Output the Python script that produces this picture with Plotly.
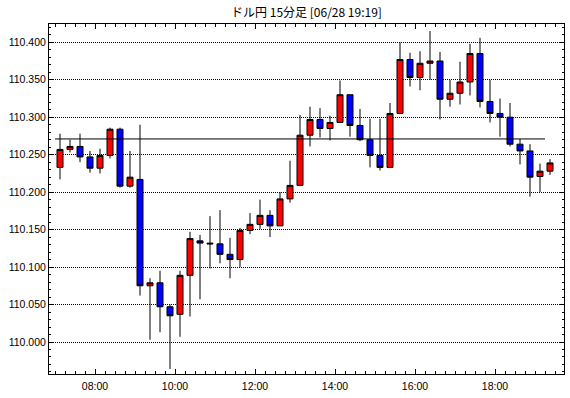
import pandas as pd
import plotly.graph_objects as go

title = "ドル円 15分足 [06/28 19:19]"
times = pd.date_range("2018-06-28 07:00", periods=50, freq="15min")

opens = [110.233, 110.257, 110.261, 110.247, 110.232, 110.249, 110.284, 110.208, 110.217, 110.075,
         110.079, 110.047, 110.037, 110.089, 110.135, 110.132, 110.131, 110.117, 110.110, 110.149,
         110.157, 110.169, 110.155, 110.191, 110.209, 110.276, 110.297, 110.285, 110.293, 110.330,
         110.289, 110.270, 110.249, 110.233, 110.305, 110.377, 110.353, 110.372, 110.375, 110.324,
         110.332, 110.347, 110.385, 110.321, 110.305, 110.300, 110.264, 110.255, 110.221, 110.228]
highs = [110.278, 110.270, 110.278, 110.255, 110.258, 110.286, 110.286, 110.255, 110.290, 110.085,
         110.095, 110.050, 110.095, 110.147, 110.143, 110.168, 110.176, 110.139, 110.152, 110.172,
         110.190, 110.176, 110.200, 110.242, 110.303, 110.314, 110.312, 110.302, 110.349, 110.330,
         110.311, 110.298, 110.298, 110.319, 110.400, 110.386, 110.388, 110.415, 110.387, 110.350,
         110.374, 110.398, 110.406, 110.350, 110.325, 110.319, 110.271, 110.264, 110.238, 110.244]
lows = [110.217, 110.253, 110.240, 110.226, 110.225, 110.245, 110.206, 110.206, 110.062, 110.003,
        110.013, 109.964, 110.007, 110.034, 110.057, 110.098, 110.105, 110.085, 110.100, 110.144,
        110.151, 110.140, 110.155, 110.186, 110.209, 110.261, 110.273, 110.269, 110.293, 110.274,
        110.268, 110.233, 110.229, 110.232, 110.305, 110.341, 110.336, 110.350, 110.297, 110.314,
        110.317, 110.329, 110.313, 110.293, 110.274, 110.261, 110.237, 110.194, 110.200, 110.223]
closes = [110.257, 110.261, 110.247, 110.232, 110.249, 110.284, 110.208, 110.220, 110.075, 110.079,
          110.047, 110.035, 110.089, 110.138, 110.132, 110.131, 110.117, 110.110, 110.149, 110.157,
          110.169, 110.155, 110.191, 110.209, 110.276, 110.297, 110.285, 110.293, 110.330, 110.289,
          110.270, 110.249, 110.233, 110.305, 110.377, 110.353, 110.372, 110.375, 110.324, 110.332,
          110.347, 110.385, 110.321, 110.305, 110.300, 110.264, 110.255, 110.220, 110.228, 110.239]
ref_level = 110.271

x_range = ["2018-06-28 06:51:00", "2018-06-28 19:43:30"]
y_range = [109.9573, 110.4244]

fig = go.Figure()
fig.add_trace(go.Scatter(
    x=[times[0], times[-1]], y=[ref_level, ref_level], mode="lines",
    line=dict(color="black", width=1), hoverinfo="skip", showlegend=False))
fig.add_trace(go.Candlestick(
    x=times, open=opens, high=highs, low=lows, close=closes,
    xperiod=15 * 60 * 1000, xperiodalignment="middle",
    increasing=dict(line=dict(color="black", width=1), fillcolor="#FF0000"),
    decreasing=dict(line=dict(color="black", width=1), fillcolor="#0000FF"),
    whiskerwidth=0, showlegend=False))

font = dict(family="Liberation Sans, Arial, sans-serif", size=10.5, color="black")
fig.update_layout(
    template="none",
    width=570, height=398,
    margin=dict(l=49, r=6, t=24, b=24, autoexpand=False),
    paper_bgcolor="white", plot_bgcolor="white",
    boxgap=0.4, boxgroupgap=0,
    title=dict(text=title, x=0.5, xref="paper", y=1 - 13 / 398, yref="container",
               xanchor="center", yanchor="middle",
               font=dict(family="Noto Sans CJK JP, sans-serif", size=12, color="black")),
    font=font,
)
fig.update_xaxes(
    type="date", range=x_range, rangeslider=dict(visible=False), automargin=False,
    tick0="2018-06-28 00:00", dtick=2 * 3600 * 1000, tickformat="%H:%M",
    ticks="inside", ticklen=5, tickcolor="black", tickwidth=1, ticklabelstandoff=2,
    minor=dict(dtick=15 * 60 * 1000, ticks="inside", ticklen=3, tickcolor="black", tickwidth=1,
               showgrid=False),
    showgrid=False, zeroline=False,
    showline=True, linecolor="black", linewidth=1, mirror="ticks",
    tickfont=font,
)
fig.update_yaxes(
    range=y_range, tick0=110.0, dtick=0.05, tickformat=".3f", automargin=False,
    ticks="inside", ticklen=4, tickcolor="black", tickwidth=1,
    minor=dict(dtick=0.01, ticks="inside", ticklen=2, tickcolor="black", tickwidth=1,
               showgrid=False),
    showgrid=True, gridcolor="black", gridwidth=1, griddash="1px,1px",
    zeroline=False,
    showline=True, linecolor="black", linewidth=1, mirror="ticks",
    tickfont=font,
)
fig.write_html("out.html", config={"displayModeBar": False},
               post_script="document.body.style.margin='0';document.body.style.overflow='hidden';")
